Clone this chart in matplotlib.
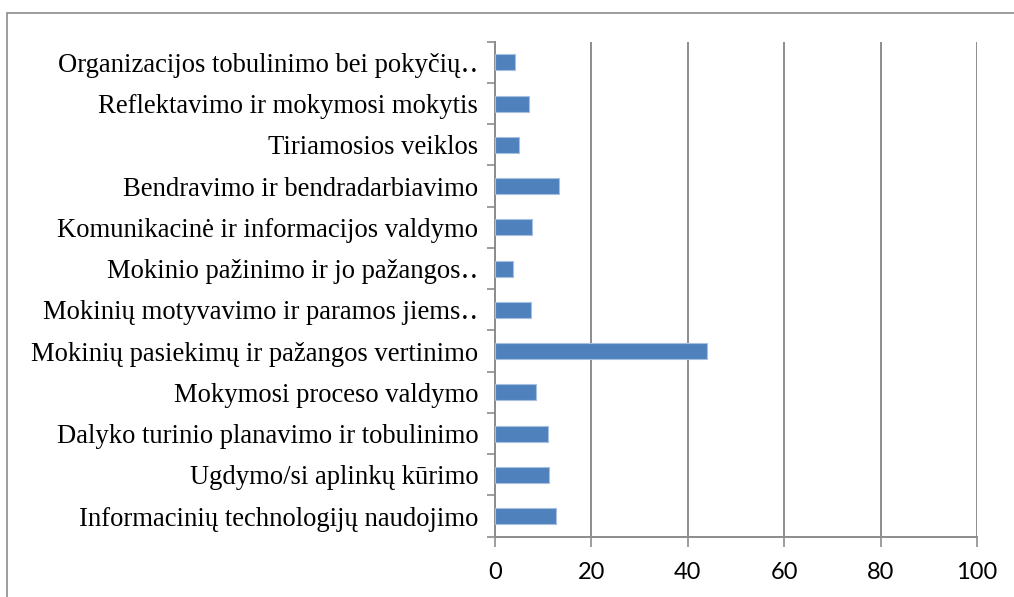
import numpy as np
import matplotlib
matplotlib.use("Agg")
import matplotlib.pyplot as plt
from matplotlib.patches import Rectangle

# categories listed bottom to top
categories = [
    "Informacinių technologijų naudojimo",
    "Ugdymo/si aplinkų kūrimo",
    "Dalyko turinio planavimo ir tobulinimo",
    "Mokymosi proceso valdymo",
    "Mokinių pasiekimų ir pažangos vertinimo",
    "Mokinių motyvavimo ir paramos jiems‥",
    "Mokinio pažinimo ir jo pažangos‥",
    "Komunikacinė ir informacijos valdymo",
    "Bendravimo ir bendradarbiavimo",
    "Tiriamosios veiklos",
    "Reflektavimo ir mokymosi mokytis",
    "Organizacijos tobulinimo bei pokyčių‥",
]
values = [12.7, 11.1, 11.0, 8.5, 43.9, 7.5, 3.8, 7.6, 13.2, 5.0, 7.0, 4.1]
xticks = [0, 20, 40, 60, 80, 100]

W, H = 1014, 597
fig = plt.figure(figsize=(W / 100, H / 100), dpi=100)
ax = fig.add_axes([495 / W, 1 - 536.7 / H, (977 - 495) / W, (536.7 - 41.7) / H])

# outer chart border (cut off at right and bottom)
fig.patches.append(Rectangle((7 / W, -0.05), 1.1, 1 - 13 / H + 0.05,
                             transform=fig.transFigure, fill=False,
                             edgecolor="#8c8c8c", linewidth=1.2))

y = np.arange(len(categories))
ax.barh(y, values, height=0.39, color="#4f81bd", edgecolor="#a7bfe0", linewidth=0.8, zorder=3)

ax.set_xlim(0, 100)
ax.set_ylim(-0.5, len(categories) - 0.5)
ax.set_xticks(xticks)
ax.set_xticklabels([str(t) for t in xticks], fontsize=17, family=["Lato", "DejaVu Sans"])
ax.xaxis.grid(True, color="#8c8c8c", linewidth=1.4, zorder=0)
ax.tick_params(axis="x", length=7, width=1.2, color="#8c8c8c", pad=11)

ax.set_yticks(y)
ax.set_yticklabels(categories, fontsize=19.2, family=["Liberation Serif", "DejaVu Serif"])
ax.set_yticks(np.arange(-0.5, len(categories), 1), minor=True)
ax.tick_params(axis="y", which="major", length=0, pad=12)
ax.tick_params(axis="y", which="minor", length=6, width=1.2, color="#8c8c8c")

for s in ["top", "right"]:
    ax.spines[s].set_visible(False)
for s in ["left", "bottom"]:
    ax.spines[s].set_color("#8c8c8c")
    ax.spines[s].set_linewidth(1.4)

fig.savefig("out.png", dpi=100)
